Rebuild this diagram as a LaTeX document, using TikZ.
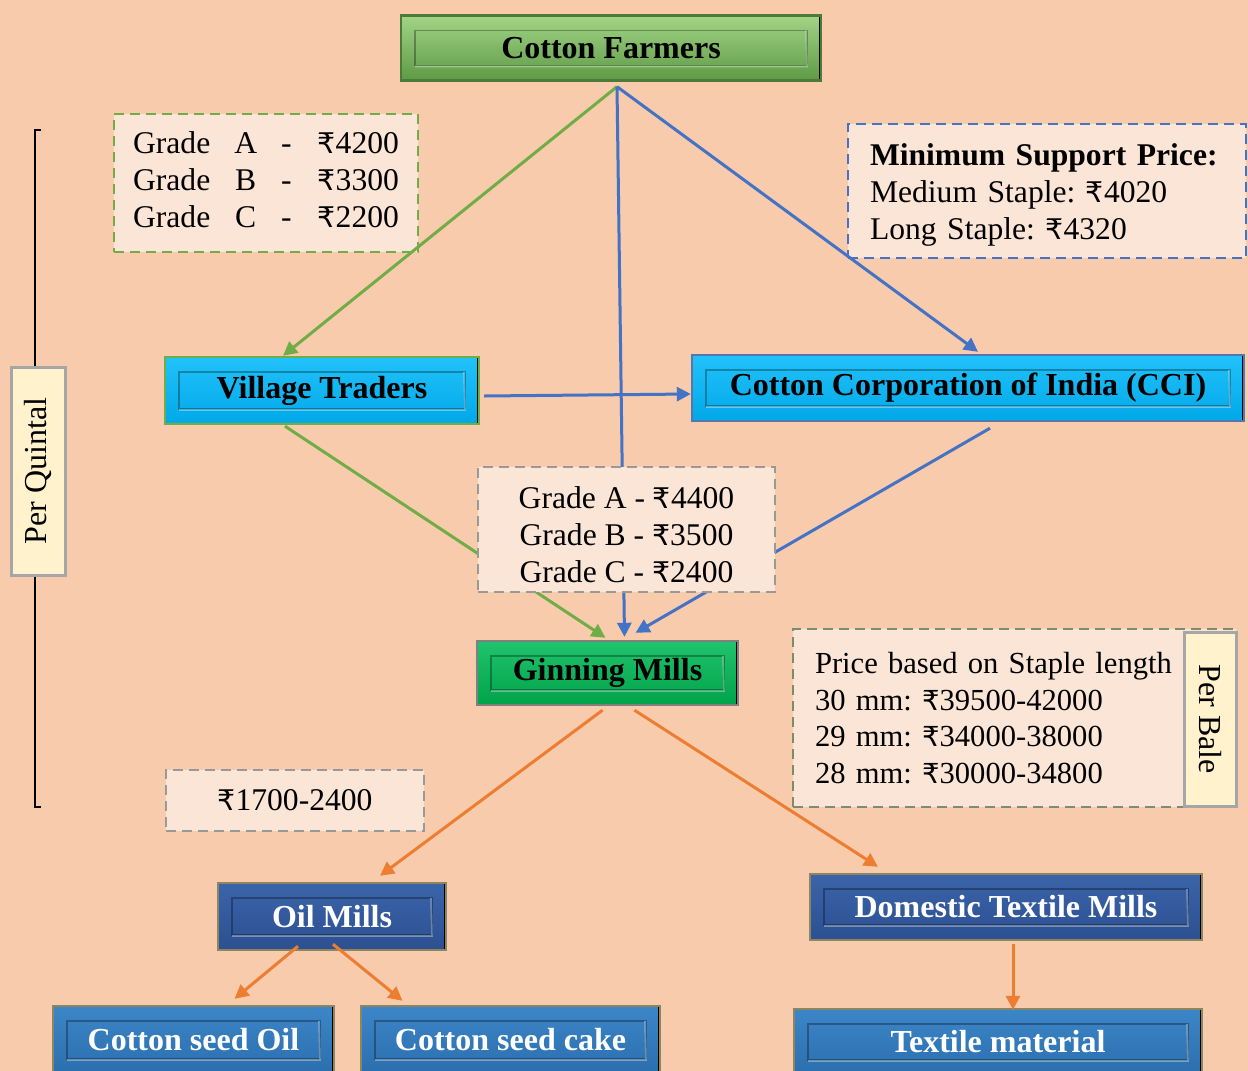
\documentclass[tikz,border=0pt]{standalone}
\usepackage{fontspec}
\setmainfont{Liberation Serif}
\newfontfamily\rupeefont{DejaVu Sans}[Scale=0.9]
\newcommand{\rs}{{\rupeefont ₹}}
\usepackage{xcolor}
\usetikzlibrary{shapes,arrows.meta,positioning,calc}
\frenchspacing

\definecolor{peach}{HTML}{F8CBAD}
\definecolor{softpeach}{HTML}{FBE5D6}
\definecolor{cream}{HTML}{FFF2CC}
\definecolor{leafline}{HTML}{70AD47}
\definecolor{flowblue}{HTML}{4472C4}
\definecolor{flowor}{HTML}{ED7D31}
\definecolor{farmtop}{HTML}{A2D486}
\definecolor{farmbot}{HTML}{5E9A45}
\definecolor{farmedge}{HTML}{4E7A38}
\definecolor{skytop}{HTML}{22C2FA}
\definecolor{skybot}{HTML}{00A8E8}
\definecolor{gintop}{HTML}{20C46C}
\definecolor{ginbot}{HTML}{00A24A}
\definecolor{navytop}{HTML}{3B64AA}
\definecolor{navybot}{HTML}{2C5091}
\definecolor{midtop}{HTML}{3C86C8}
\definecolor{midbot}{HTML}{2B6EAD}
\definecolor{khaki}{HTML}{8C8660}

\begin{document}
\begin{tikzpicture}[x=0.5pt, y=-0.5pt, >={Triangle[length=7pt, width=7pt]}]
  \tikzstyle{stage}=[rectangle, line width=1.2pt, font=\fontsize{16}{19}\selectfont\bfseries, path picture={
      \draw[black, opacity=0.3, line width=0.8pt] ([shift={(7pt,-7.5pt)}]path picture bounding box.north west) rectangle ([shift={(-7pt,7.5pt)}]path picture bounding box.south east);
      \draw[white, opacity=0.35, line width=0.8pt] ([shift={(7pt,7pt)}]path picture bounding box.south west) -- ([shift={(-7pt,7pt)}]path picture bounding box.south east) -- ([shift={(-7.5pt,-7.5pt)}]path picture bounding box.north east);
      \draw[black, line width=2.5pt] (path picture bounding box.north east) -- (path picture bounding box.south east);}]
  \tikzstyle{pricebox}=[rectangle, fill=softpeach, line width=1.1pt, dash pattern=on 5pt off 3pt, font=\fontsize{15.8}{18.5}\selectfont]
  \tikzstyle{tag}=[rectangle, fill=cream, draw=gray!70, line width=1.5pt, font=\fontsize{16}{18}\selectfont]
  \tikzstyle{flow}=[->, line width=1.5pt]

  % page
  \fill[peach] (0,0) rectangle (1248,1071);
  \clip (0,0) rectangle (1248,1071);

  % bracket for per quintal
  \coordinate (qtop) at (41,130);
  \coordinate (qbot) at (41,807);
  \draw[line width=0.8pt] (qtop) -- ++(-6,0) -- ++(0,677) -- (qbot);

  % supply chain stages
  \node[stage, draw=farmedge, top color=farmtop, bottom color=farmbot, minimum width=210pt, minimum height=32.5pt] (farmers) at (611,48) {Cotton Farmers};
  \node[stage, draw=leafline, top color=skytop, bottom color=skybot, minimum width=157pt, minimum height=33.5pt] (village) at (322,390.5) {Village Traders};
  \node[stage, draw=flowblue!70!gray, top color=skytop, bottom color=skybot, minimum width=276pt, minimum height=33pt] (cci) at (968,388) {Cotton Corporation of India (CCI)};
  \node[stage, draw=gray, top color=gintop, bottom color=ginbot, minimum width=130.5pt, minimum height=32pt] (ginning) at (607.5,673) {Ginning Mills};
  \node[stage, draw=khaki, top color=navytop, bottom color=navybot, text=white, minimum width=114pt, minimum height=33.5pt] (oil) at (332,916.5) {Oil Mills};
  \node[stage, draw=khaki, top color=navytop, bottom color=navybot, text=white, minimum width=196pt, minimum height=33pt] (domestic) at (1006,907) {Domestic Textile Mills};
  \node[stage, draw=khaki, top color=midtop, bottom color=midbot, text=white, minimum width=140.5pt, minimum height=34pt] (seedoil) at (193.5,1040) {Cotton seed Oil};
  \node[stage, draw=khaki, top color=midtop, bottom color=midbot, text=white, minimum width=149.5pt, minimum height=34pt] (cake) at (510.5,1040) {Cotton seed cake};
  \node[stage, draw=khaki, top color=midtop, bottom color=midbot, text=white, minimum width=204pt, minimum height=33pt] (textile) at (998,1042) {Textile material};

  % prices at village level and MSP
  \node[pricebox, draw=leafline, minimum width=152pt, minimum height=69pt] (gradevil) at (266,183)
    {\begin{tabular}{@{}l@{\hspace{12pt}}c@{\hspace{12pt}}c@{\hspace{13pt}}l@{}}
      Grade & A & - & \rs4200\\ Grade & B & - & \rs3300\\ Grade & C & - & \rs2200
    \end{tabular}};
  \node[pricebox, draw=flowblue, text width=177pt, inner xsep=11pt, align=left, minimum height=67pt] (msp) at (1047,191)
    {\rule{0pt}{15pt}\textbf{Minimum Support Price:}\\ Medium Staple: \rs4020\\ Long Staple: \rs4320};

  % connectors
  \draw[flow, leafline] ([shift={(6,5)}]farmers.south) -- ([shift={(-39,0)}]village.north);
  \draw[flow, flowblue] ([shift={(6,5)}]farmers.south) -- ([shift={(10,-2)}]cci.north);
  \draw[flow, flowblue] ([shift={(6,5)}]farmers.south) -- ([shift={(17,-3)}]ginning.north);
  \draw[flow, flowblue] ([shift={(4,5.5)}]village.east) -- ([shift={(0,6)}]cci.west);
  \draw[flow, leafline] ([shift={(-37,1)}]village.south) -- ([shift={(-2,-2)}]ginning.north);
  \draw[flow, flowblue] ([shift={(22,6)}]cci.south) -- ([shift={(28,-7)}]ginning.north);
  \draw[flow, flowor] ([shift={(-5,4)}]ginning.south) -- ([shift={(48,-6)}]oil.north);
  \draw[flow, flowor] ([shift={(27,4)}]ginning.south) -- ([shift={(-128,-6)}]domestic.north);
  \draw[flow, flowor] ([shift={(-34,-5)}]oil.south) -- ([shift={(41,-6)}]seedoil.north);
  \draw[flow, flowor] ([shift={(1,-7)}]oil.south) -- ([shift={(-108,-4)}]cake.north);
  \draw[flow, flowor] ([shift={(7,3)}]domestic.south) -- ([shift={(15,2)}]textile.north);

  % prices at mill level
  \node[pricebox, draw=gray!80, minimum width=148.5pt, minimum height=62.5pt, align=center] (grademill) at (626.5,529.5)
    {\rule{0pt}{16pt}Grade A - \rs4400\\ Grade B - \rs3500\\ Grade C - \rs2400};
  \node[pricebox, draw=gray!70!leafline, text width=199.5pt, inner xsep=11pt, align=left, minimum height=89pt, font=\fontsize{15.3}{18.3}\selectfont] (staple) at (1014.5,718)
    {Price based on Staple length\\ 30 mm: \rs39500-42000\\ 29 mm: \rs34000-38000\\ 28 mm: \rs30000-34800};
  \node[pricebox, draw=gray!80, minimum width=129pt, minimum height=30.5pt] (seedprice) at (295,800.5) {\rs1700-2400};

  % units
  \node[tag, rotate=-90, minimum width=87pt, minimum height=26pt] (perbale) at (1210,719) {Per Bale};
  \node[tag, rotate=90, minimum width=104pt, minimum height=27pt] (perquintal) at (38,471) {Per Quintal};
\end{tikzpicture}
\end{document}
